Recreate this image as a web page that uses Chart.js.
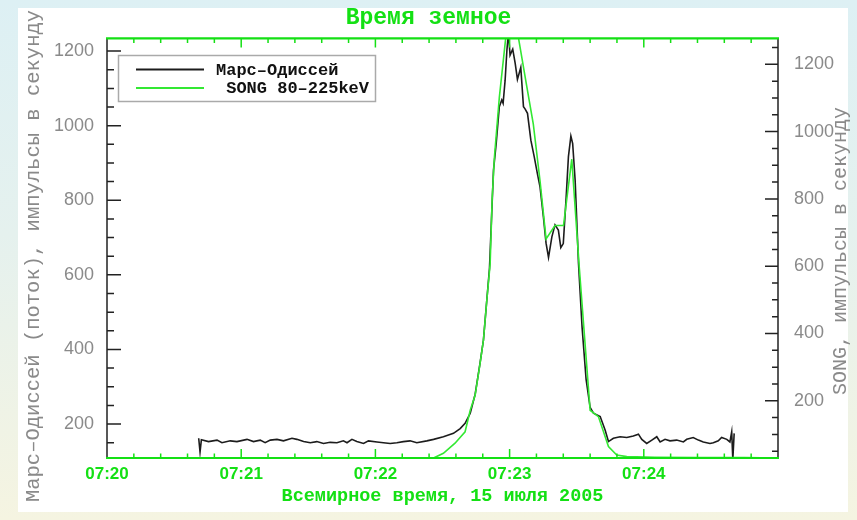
<!DOCTYPE html>
<html lang="ru">
<head>
<meta charset="utf-8">
<title>Время земное</title>
<script src="https://cdn.jsdelivr.net/npm/chart.js@4.4.1/dist/chart.umd.min.js"></script>
<style>
  html, body { margin: 0; padding: 0; }
  body {
    width: 857px; height: 520px; overflow: hidden; position: relative;
    background: linear-gradient(to bottom, #ddf0f4 0%, #e5f1ee 45%, #f5f4e1 100%);
  }
  #panel { position: absolute; left: 18px; top: 8px; width: 830px; height: 504px; background: #fff; }
  #chartBox { position: absolute; left: 0; top: 0; width: 857px; height: 520px; }
</style>
</head>
<body>
<div id="panel"></div>
<div id="chartBox"><canvas id="songChart" width="857" height="520"></canvas></div>
<script>
// time is in seconds after 07:20:00 UT
const marsTime = [41, 41.6, 42.2, 45.4, 49.2, 51.4, 55.1, 58.1, 62.6, 65.5, 68.5, 70.7, 73, 76, 78.9, 82.7, 84.9, 87.9,
  90.9, 93.8, 96.8, 99.8, 102.8, 105.7, 107.3, 109.5, 111.7, 114.7, 116.9, 120.7, 123.6, 126.6, 129.6, 132.5, 135.5,
  138.5, 143, 146, 150.4, 154.9, 157.9, 160.1, 162.4, 164.6, 166.8, 168.3, 169.8, 171, 172.8, 174, 175.4, 176.5,
  177.1, 178, 178.8, 179.5, 180.2, 181.4, 182.5, 183.5, 185, 186.2, 186.9, 188, 189.5, 191, 192.4, 193.6, 195.1,
  196.3, 197.4, 198.9, 200.3, 201.8, 202.9, 204, 205.3, 206.3, 207.4, 208.2, 209.3, 210.8, 212.4, 214.2, 216,
  217.5, 220.5, 222.7, 224.2, 226.4, 229.4, 232.4, 235.3, 237.6, 239.1, 241.3, 243.6, 245.8, 247.3, 249.5, 251.7,
  254.7, 257.7, 259.2, 262.1, 264.4, 266.6, 269.6, 271.1, 273.3, 274.8, 277.1, 278.5, 279.3, 279.8, 280.4];
const marsCounts = [162, 125, 158, 153, 157, 150, 155, 153, 159, 153, 157, 150, 157, 159, 155, 162, 159, 153,
  150, 153, 148, 151, 150, 155, 150, 159, 153, 148, 155, 152, 150, 148, 150, 153, 155,
  150, 155, 159, 166, 175, 188, 202, 229, 280, 364, 425, 532, 617, 881, 952, 1051, 1069,
  1060, 1122, 1203, 1250, 1189, 1205, 1167, 1124, 1156, 1051, 1045, 1033, 961, 917, 872, 836, 756,
  685, 647, 702, 734, 720, 673, 684, 809, 917, 972, 952, 854, 631, 460, 320, 245,
  229, 220, 184, 153, 162, 166, 164, 168, 173, 159, 148, 157, 166, 152, 159, 155,
  157, 152, 159, 164, 157, 152, 148, 150, 155, 164, 159, 152, 179, 105, 175];

const songTime = [0, 40, 80, 120, 146, 150.4, 155.6, 160.1, 162.4, 164.6, 166.8, 168.3, 169.8, 171.3, 172.2, 173.2,
  175.4, 179.1, 182.9, 187.5, 190.6, 193.6, 196.3, 200.3, 204.1, 207.8, 211.2, 216, 219.7, 224.2, 227.9, 232.4,
  245, 265, 285, 300];
const songCounts = [30, 30, 30, 30, 30, 44, 74, 108, 172, 217, 311, 380, 498, 607, 800, 923,
  1101, 1330, 1320, 1141, 1022, 854, 681, 721, 721, 918, 592, 172, 153, 64, 39, 34,
  32, 31, 31, 30];

const timeTickLabels = ['07:20', '07:21', '07:22', '07:23', '07:24'];

const GREEN = '#14e014';
const GRAY = '#8a8a8a';

function pairs(xs, ys) {
  return xs.map((t, i) => ({ x: t, y: ys[i] }));
}

function sideTitle(ctx, text, cx, cy, size) {
  ctx.save();
  ctx.translate(cx, cy);
  ctx.rotate(-Math.PI / 2);
  ctx.fillStyle = GRAY;
  ctx.font = size + 'px "Liberation Mono"';
  ctx.textAlign = 'center';
  ctx.textBaseline = 'middle';
  ctx.fillText(text, 0, 0);
  ctx.restore();
}

// frame with inward ticks, like the original plot
const framePlugin = {
  id: 'frame',
  afterDatasetsDraw(chart) {
    const { ctx, chartArea: a, scales: { x, y, y2 } } = chart;
    ctx.save();
    ctx.lineCap = 'butt';

    ctx.strokeStyle = '#222';
    ctx.lineWidth = 1.5;
    ctx.beginPath();
    ctx.moveTo(a.left, a.top); ctx.lineTo(a.left, a.bottom);
    ctx.moveTo(a.right, a.top); ctx.lineTo(a.right, a.bottom);
    for (let v = 0; v <= 1300; v += 50) {
      const len = v % 200 === 0 ? 14 : 7;
      const p1 = y.getPixelForValue(v);
      if (p1 > a.top + 1 && p1 < a.bottom - 1) { ctx.moveTo(a.left, p1); ctx.lineTo(a.left + len, p1); }
      const p2 = y2.getPixelForValue(v);
      if (p2 > a.top + 1 && p2 < a.bottom - 1) { ctx.moveTo(a.right, p2); ctx.lineTo(a.right - len + 1, p2); }
    }
    ctx.stroke();

    ctx.strokeStyle = GREEN;
    ctx.lineWidth = 1.5;
    ctx.beginPath();
    for (let t = 12; t < 300; t += 12) {
      const len = t % 60 === 0 ? 9 : 4.5;
      const px = x.getPixelForValue(t);
      ctx.moveTo(px, a.bottom); ctx.lineTo(px, a.bottom - len);
      ctx.moveTo(px, a.top); ctx.lineTo(px, a.top + len);
    }
    ctx.stroke();
    ctx.lineWidth = 2.2;
    ctx.beginPath();
    ctx.moveTo(a.left - 1, a.top); ctx.lineTo(a.right + 1, a.top);
    ctx.moveTo(a.left - 1, a.bottom); ctx.lineTo(a.right + 1, a.bottom);
    ctx.stroke();
    ctx.restore();
  },
  afterDraw(chart) {
    const { ctx, scales: { y, y2 } } = chart;
    sideTitle(ctx, 'Марс–Одиссей (поток), импульсы в секунду', y.left + 34, 256, 20.5);
    sideTitle(ctx, 'SONG, импульсы в секунду', y2.right - 16, 251, 20);
  }
};

const boxLegend = {
  id: 'boxLegend',
  afterDraw(chart) {
    const { ctx } = chart;
    ctx.save();
    ctx.fillStyle = '#fff';
    ctx.fillRect(118.5, 55.5, 257, 46);
    ctx.strokeStyle = '#aaa';
    ctx.lineWidth = 1.5;
    ctx.strokeRect(118.5, 55.5, 257, 46);
    ctx.font = 'bold 17px "Liberation Mono"';
    ctx.textBaseline = 'middle';
    chart.data.datasets.forEach((ds, i) => {
      const ly = 69.5 + i * 18.5;
      ctx.strokeStyle = ds.borderColor;
      ctx.lineWidth = 2;
      ctx.beginPath();
      ctx.moveTo(136, ly); ctx.lineTo(204, ly);
      ctx.stroke();
      ctx.fillStyle = '#111';
      ctx.fillText(ds.label, 216, ly + 1);
    });
    ctx.restore();
  }
};

const plainNumber = v => String(v);

const ctx = document.getElementById('songChart').getContext('2d');
const chart = new Chart(ctx, {
  type: 'line',
  data: {
    datasets: [{
      label: 'Марс–Одиссей',
      data: pairs(marsTime, marsCounts),
      yAxisID: 'y',
      borderColor: '#1c1c1c',
      borderWidth: 1.6,
      pointRadius: 0,
      tension: 0,
      order: 1
    }, {
      label: ' SONG 80–225keV',
      data: pairs(songTime, songCounts),
      yAxisID: 'y2',
      borderColor: '#33e833',
      borderWidth: 1.6,
      pointRadius: 0,
      tension: 0,
      order: 0
    }]
  },
  options: {
    responsive: false,
    animation: false,
    devicePixelRatio: 1,
    layout: { padding: 0 },
    plugins: {
      legend: { display: false },
      tooltip: { enabled: false },
      title: {
        display: true,
        text: 'Время земное',
        color: GREEN,
        font: { family: 'Liberation Mono', size: 23, weight: 'bold' },
        padding: { top: 4, bottom: 6.8 }
      }
    },
    scales: {
      x: {
        type: 'linear',
        min: 0,
        max: 300,
        grid: { display: false },
        border: { display: false },
        ticks: {
          stepSize: 60,
          autoSkip: false,
          maxRotation: 0,
          padding: -2,
          color: GREEN,
          font: { family: 'Liberation Sans', size: 17, weight: 'bold' },
          callback: v => timeTickLabels[v / 60] || ''
        },
        title: {
          display: true,
          text: 'Всемирное время, 15 июля 2005',
          color: GREEN,
          font: { family: 'Liberation Mono', size: 18.5, weight: 'bold' },
          padding: { top: 0, bottom: 13 }
        },
        afterFit(s) { s.height = 62; }
      },
      y: {
        position: 'left',
        min: 109,
        max: 1234,
        grid: { display: false },
        border: { display: false },
        ticks: {
          stepSize: 200,
          includeBounds: false,
          padding: 5,
          color: GRAY,
          font: { family: 'Liberation Sans', size: 18 },
          callback: plainNumber
        },
        afterFit(s) { s.width = 107; }
      },
      y2: {
        position: 'right',
        min: 30,
        max: 1277,
        grid: { display: false },
        border: { display: false },
        ticks: {
          stepSize: 200,
          includeBounds: false,
          padding: 8,
          color: GRAY,
          font: { family: 'Liberation Sans', size: 18 },
          callback: plainNumber
        },
        afterFit(s) { s.width = 79; }
      }
    }
  },
  plugins: [framePlugin, boxLegend]
});
</script>
</body>
</html>
